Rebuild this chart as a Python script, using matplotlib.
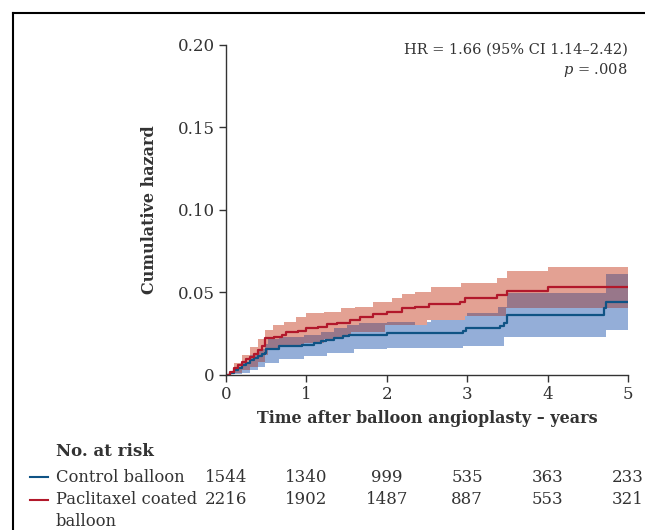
import numpy as np
import matplotlib
matplotlib.use("Agg")
import matplotlib.pyplot as plt
from matplotlib.lines import Line2D
from matplotlib.transforms import blended_transform_factory

plt.rcParams["font.family"] = ["DejaVu Serif"]
plt.rcParams["mathtext.fontset"] = "custom"
plt.rcParams["mathtext.rm"] = "DejaVu Serif"
plt.rcParams["mathtext.it"] = "DejaVu Serif:italic"

# control balloon
ctrl_t = [0, 0.05, 0.1, 0.15, 0.2, 0.25, 0.3, 0.35, 0.4, 0.45, 0.49, 0.50, 0.66, 0.95,
          1.09, 1.18, 1.24, 1.34, 1.45, 1.53, 2.0, 2.95, 2.99, 3.41, 3.46, 3.49, 4.70, 4.73, 5.0]
ctrl_v = [0, 0.0015, 0.003, 0.0045, 0.006, 0.0075, 0.009, 0.0105, 0.0115, 0.0125, 0.0131,
          0.0158, 0.0174, 0.0184, 0.0194, 0.0204, 0.0214, 0.0224, 0.0234, 0.0244, 0.0252,
          0.0268, 0.0282, 0.0295, 0.0313, 0.0364, 0.0404, 0.0444, 0.0444]
ctrl_lo_t = [0, 0.1, 0.2, 0.3, 0.4, 0.49, 0.66, 0.97, 1.26, 1.59, 2.0, 2.95, 3.46, 4.72, 5.0]
ctrl_lo_v = [0, 0.0005, 0.0015, 0.003, 0.005, 0.0075, 0.0095, 0.0115, 0.0131, 0.0156,
             0.0162, 0.0176, 0.0228, 0.0273, 0.0273]
ctrl_hi_t = [0, 0.1, 0.2, 0.3, 0.4, 0.49, 0.52, 0.66, 0.97, 1.18, 1.34, 1.5, 1.65, 2.0,
             2.55, 2.95, 3.0, 3.38, 3.49, 4.72, 5.0]
ctrl_hi_v = [0, 0.004, 0.008, 0.012, 0.016, 0.0186, 0.0216, 0.0228, 0.024, 0.0263, 0.0283,
             0.0303, 0.0315, 0.0323, 0.0335, 0.0358, 0.0374, 0.041, 0.0495, 0.0612, 0.0612]

# paclitaxel coated balloon
pcb_t = [0, 0.05, 0.1, 0.15, 0.2, 0.25, 0.3, 0.35, 0.4, 0.45, 0.48, 0.6, 0.70, 0.74, 0.89,
         0.99, 1.14, 1.26, 1.38, 1.54, 1.67, 1.83, 2.0, 2.19, 2.35, 2.52, 2.91, 2.97, 3.37,
         3.49, 4.01, 5.0]
pcb_v = [0, 0.002, 0.004, 0.006, 0.008, 0.0095, 0.011, 0.013, 0.015, 0.0175, 0.0222, 0.0232,
         0.0242, 0.0259, 0.0269, 0.0283, 0.0293, 0.0307, 0.0317, 0.0333, 0.0354, 0.0368,
         0.0384, 0.0404, 0.0414, 0.043, 0.0444, 0.0465, 0.0485, 0.0511, 0.0531, 0.0531]
pcb_lo_t = [0, 0.1, 0.2, 0.3, 0.4, 0.48, 0.52, 0.66, 0.97, 1.22, 1.45, 1.55, 1.98, 2.5,
            2.97, 3.48, 5.0]
pcb_lo_v = [0, 0.001, 0.003, 0.005, 0.008, 0.0121, 0.0162, 0.0175, 0.0196, 0.0216, 0.0236,
            0.0263, 0.0303, 0.0333, 0.0358, 0.0404, 0.0404]
pcb_hi_t = [0, 0.1, 0.2, 0.3, 0.4, 0.48, 0.58, 0.72, 0.87, 0.99, 1.22, 1.43, 1.6, 1.83,
            2.06, 2.19, 2.35, 2.55, 2.92, 3.37, 3.49, 4.01, 5.0]
pcb_hi_v = [0, 0.007, 0.012, 0.017, 0.022, 0.0273, 0.0303, 0.0323, 0.0353, 0.0374, 0.0384,
            0.0404, 0.0414, 0.0444, 0.0465, 0.049, 0.0505, 0.0535, 0.0556, 0.0586, 0.0632,
            0.0656, 0.0656]

risk_years = [0, 1, 2, 3, 4, 5]
risk_ctrl = [1544, 1340, 999, 535, 363, 233]
risk_pcb = [2216, 1902, 1487, 887, 553, 321]

C_BLUE = "#0f5385"
C_RED = "#b2182b"
F_BLUE = "#94aed8"
F_RED = "#e3a193"
F_BOTH = "#98778a"
TXT = "#333333"


def step_at(t, v, grid):
    idx = np.searchsorted(np.asarray(t), grid, side="right") - 1
    return np.asarray(v)[np.clip(idx, 0, len(v) - 1)]


grid = np.unique(np.concatenate([ctrl_lo_t, ctrl_hi_t, pcb_lo_t, pcb_hi_t]))
c_lo = step_at(ctrl_lo_t, ctrl_lo_v, grid)
c_hi = step_at(ctrl_hi_t, ctrl_hi_v, grid)
p_lo = step_at(pcb_lo_t, pcb_lo_v, grid)
p_hi = step_at(pcb_hi_t, pcb_hi_v, grid)
o_lo = np.maximum(c_lo, p_lo)
o_hi = np.minimum(c_hi, p_hi)

fig = plt.figure(figsize=(6.45, 5.30), dpi=100)
ax = fig.add_axes([0.3504, 0.2925, 0.6233, 0.6226])

ax.fill_between(grid, c_lo, c_hi, step="post", color=F_BLUE, lw=0)
ax.fill_between(grid, p_lo, p_hi, step="post", color=F_RED, lw=0)
ax.fill_between(grid, o_lo, o_hi, where=o_hi > o_lo, step="post", color=F_BOTH, lw=0)
ax.step(ctrl_t, ctrl_v, where="post", color=C_BLUE, lw=1.6)
ax.step(pcb_t, pcb_v, where="post", color=C_RED, lw=1.6)

ax.set_xlim(0, 5)
ax.set_ylim(0, 0.20)
ax.set_xticks(range(6))
ax.set_yticks([0, 0.05, 0.10, 0.15, 0.20])
ax.set_yticklabels(["0", "0.05", "0.10", "0.15", "0.20"])
for s in ["top", "right"]:
    ax.spines[s].set_visible(False)
for s in ["left", "bottom"]:
    ax.spines[s].set_color(TXT)
    ax.spines[s].set_linewidth(1.0)
ax.tick_params(direction="out", length=5, width=1.0, color=TXT,
               labelsize=12, labelcolor=TXT, pad=3)
ax.set_xlabel("Time after balloon angioplasty \u2013 years", fontsize=11.5,
              fontweight="bold", color=TXT, labelpad=5)
ax.set_ylabel("Cumulative hazard", fontsize=11.5, fontweight="bold", color=TXT,
              labelpad=14)

ax.text(1.0, 0.985, "HR = 1.66 (95% CI 1.14\u20132.42)", transform=ax.transAxes,
        ha="right", va="center", fontsize=10.5, color=TXT)
ax.text(1.0, 0.925, "$p$ = .008", transform=ax.transAxes,
        ha="right", va="center", fontsize=10.5, color=TXT)

# number at risk table
tr = blended_transform_factory(ax.transData, fig.transFigure)
fig.text(56 / 645, 1 - 451 / 530, "No. at risk", fontsize=12, fontweight="bold",
         color=TXT, va="center")
rows = [(risk_ctrl, "Control balloon", C_BLUE, 477), (risk_pcb, "Paclitaxel coated", C_RED, 500)]
for counts, label, col, ypx in rows:
    yf = 1 - ypx / 530
    fig.add_artist(Line2D([30 / 645, 48 / 645], [yf, yf], color=col, lw=1.5))
    fig.text(56 / 645, yf, label, fontsize=11.8, color=TXT, va="center")
    for yr, n in zip(risk_years, counts):
        ax.text(yr, yf, str(n), transform=tr, ha="center", va="center", fontsize=12,
                color=TXT, clip_on=False)
fig.text(56 / 645, 1 - 521 / 530, "balloon", fontsize=11.8, color=TXT, va="center")

# frame lines at top and left
fig.add_artist(Line2D([13 / 645, 1.0], [1 - 13 / 530, 1 - 13 / 530], color="black", lw=1.5))
fig.add_artist(Line2D([13 / 645, 13 / 645], [0, 1 - 13 / 530], color="black", lw=1.5))

fig.savefig("out.png", dpi=100)
